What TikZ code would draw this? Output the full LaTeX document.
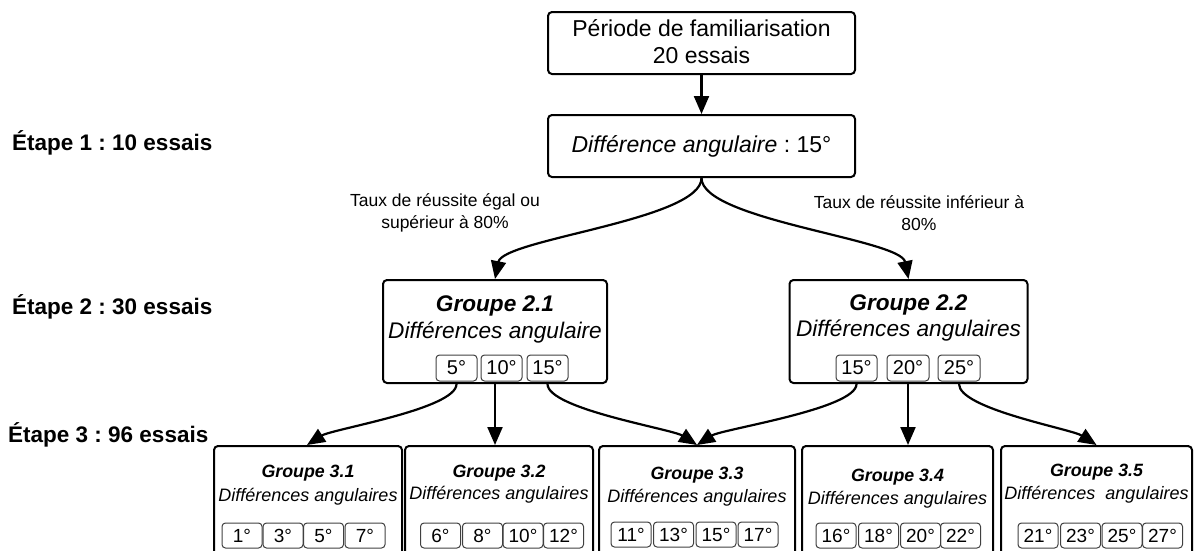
\documentclass[tikz,border=0pt]{standalone}
\usepackage{fontspec}
\setmainfont{Liberation Sans}
\usetikzlibrary{arrows.meta}
\frenchspacing
\begin{document}
\begin{tikzpicture}[x=1pt,y=-1pt,
 bigbox/.style={draw, line width=2pt, rounded corners=4pt, inner sep=0pt},
 numbox/.style={draw=black!75, line width=1pt, rounded corners=3.5pt, inner sep=0pt},
 arr/.style={line width=2.2pt, -{Triangle[length=18pt,width=15pt]}},
 stage/.style={font=\fontsize{22.5}{27}\selectfont\bfseries, anchor=west, inner sep=0pt},
 cond/.style={font=\fontsize{17.5}{22}\selectfont, align=center, inner sep=0pt},
 toptext/.style={font=\fontsize{23}{27}\selectfont, align=center, inner sep=0pt},
 gtitleA/.style={font=\fontsize{22.6}{27}\selectfont\bfseries\itshape, inner sep=0pt},
 gsubA/.style={font=\fontsize{22.6}{27}\selectfont\itshape, inner sep=0pt},
 numA/.style={numbox, minimum width=41pt, minimum height=26pt, font=\fontsize{20}{22}\selectfont},
 gtitleB/.style={font=\fontsize{17.8}{21}\selectfont\bfseries\itshape, inner sep=0pt},
 gsubB/.style={font=\fontsize{18}{21}\selectfont\itshape, inner sep=0pt},
 numB/.style={numbox, minimum width=40pt, minimum height=25pt, font=\fontsize{19}{21}\selectfont},
]
\useasboundingbox (0,0) rectangle (1199,550);

% stage labels
\node[stage] (e1) at (12,143) {Étape 1 : 10 essais};
\node[stage] (e2) at (12,307) {Étape 2 : 30 essais};
\node[stage] (e3) at (8,435) {Étape 3 : 96 essais};

% top boxes
\node[bigbox, minimum width=307pt, minimum height=62pt] (fam) at (701.5,43) {};
\node[toptext] (famt) at (701.5,42) {Période de familiarisation\\20 essais};
\node[bigbox, minimum width=307pt, minimum height=62pt] (diff) at (701.5,146) {};
\node[toptext] (difft) at (701.5,146) {\textit{Différence angulaire} : 15°};

% condition labels
\node[cond] (cl) at (445,213) {Taux de réussite égal ou\\supérieur à 80\%};
\node[cond] (cr) at (919,213) {Taux de réussite inférieur à\\80\%};

% groupe 2.1
\node[bigbox, minimum width=224pt, minimum height=103pt] (g21) at (495,331.5) {};
\node[gtitleA] (g21t) at (495,306) {Groupe 2.1};
\node[gsubA] (g21s) at (495,333) {Différences angulaire};
\node[numA] (a5) at (456.5,368) {5°};
\node[numA] (a10) at (501.5,368) {10°};
\node[numA] (a15) at (547.5,368) {15°};

% groupe 2.2
\node[bigbox, minimum width=238pt, minimum height=103pt] (g22) at (908.5,331.5) {};
\node[gtitleA] (g22t) at (908.5,305) {Groupe 2.2};
\node[gsubA] (g22s) at (908.5,331) {Différences angulaires};
\node[numA] (b15) at (856.5,368) {15°};
\node[numA, minimum width=42pt] (b20) at (908,368) {20°};
\node[numA, minimum width=42pt] (b25) at (959,368) {25°};

% bottom boxes
\node[bigbox, minimum width=188pt, minimum height=124pt] (g31) at (308,508) {};
\node[bigbox, minimum width=188pt, minimum height=124pt] (g32) at (499,508) {};
\node[bigbox, minimum width=196pt, minimum height=124pt] (g33) at (697,508) {};
\node[bigbox, minimum width=191pt, minimum height=124pt] (g34) at (897.5,508) {};
\node[bigbox, minimum width=191pt, minimum height=124pt] (g35) at (1096.5,508) {};

\node[gtitleB] (g31t) at (308,473) {Groupe 3.1};
\node[gsubB] (g31s) at (308,497) {Différences angulaires};
\node[gtitleB] (g32t) at (499,473) {Groupe 3.2};
\node[gsubB] (g32s) at (499,495) {Différences angulaires};
\node[gtitleB] (g33t) at (697,475) {Groupe 3.3};
\node[gsubB] (g33s) at (697,498) {Différences angulaires};
\node[gtitleB] (g34t) at (897.5,477) {Groupe 3.4};
\node[gsubB] (g34s) at (897.5,500) {Différences angulaires};
\node[gtitleB] (g35t) at (1096.5,472) {Groupe 3.5};
\node[gsubB] (g35s) at (1096.5,495) {Différences\ \ angulaires};

\node[numB] (c1) at (242,535.5) {1°};
\node[numB] (c3) at (283,535.5) {3°};
\node[numB] (c5) at (323.5,535.5) {5°};
\node[numB] (c7) at (365,535.5) {7°};
\node[numB] (c6) at (440.5,535.5) {6°};
\node[numB] (c8) at (482.5,535.5) {8°};
\node[numB] (c10) at (523,535.5) {10°};
\node[numB] (c12) at (563.5,535.5) {12°};
\node[numB] (c11) at (631,534.5) {11°};
\node[numB] (c13) at (673.5,534.5) {13°};
\node[numB] (c15) at (716,534.5) {15°};
\node[numB] (c17) at (758,534.5) {17°};
\node[numB] (c16) at (836,535.5) {16°};
\node[numB] (c18) at (878.5,535.5) {18°};
\node[numB] (c20) at (920.5,535.5) {20°};
\node[numB] (c22) at (960.5,535.5) {22°};
\node[numB] (c21) at (1038,535.5) {21°};
\node[numB] (c23) at (1080.5,535.5) {23°};
\node[numB] (c25) at (1122,535.5) {25°};
\node[numB] (c27) at (1162.5,535.5) {27°};

% connectors
\draw[arr] (fam.south) -- (diff.north);
\draw[arr] (diff.south) .. controls +(0,42) and +(8,-40) .. (g21.north);
\draw[arr] (diff.south) .. controls +(0,42) and +(-8,-40) .. (g22.north);

\draw[arr] (a5 |- g21.south) .. controls +(0,25) and +(25,-16) .. ([xshift=-1pt]g31.north);
\draw[arr] (g21.south) -- (g21.south |- g32.north);
\draw[arr] (a15 |- g21.south) .. controls +(0,25) and +(-25,-16) .. (g33.north);
\draw[arr] (b15 |- g22.south) .. controls +(0,25) and +(25,-16) .. (g33.north);
\draw[arr] (b20 |- g22.south) -- (b20 |- g34.north);
\draw[arr] (b25 |- g22.south) .. controls +(0,25) and +(-25,-16) .. (g35.north);
\end{tikzpicture}
\end{document}
